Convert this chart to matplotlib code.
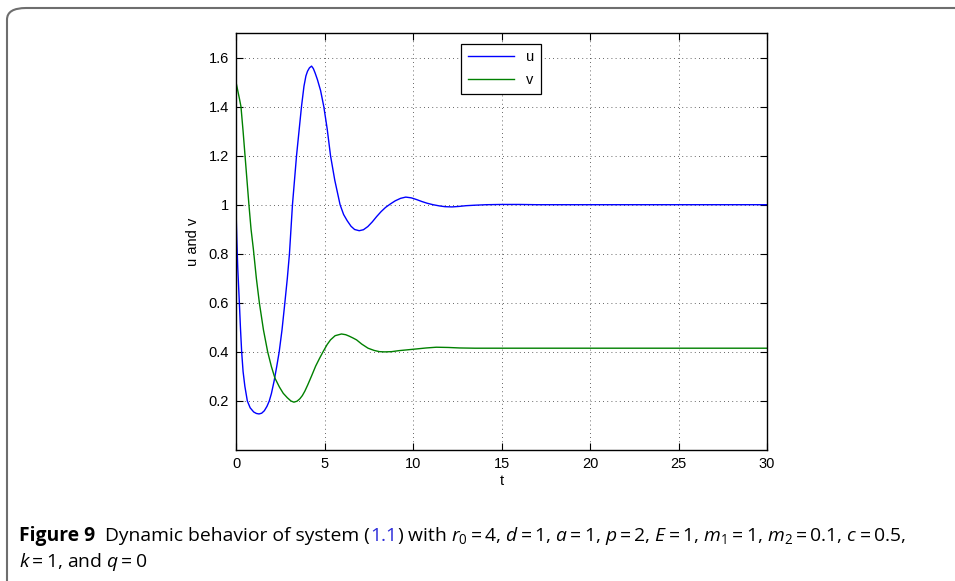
import matplotlib
matplotlib.use("Agg")
import matplotlib.pyplot as plt
from matplotlib.patches import FancyBboxPatch
from matplotlib.ticker import FuncFormatter

# values
u_t = [0, 0.02, 0.05, 0.1, 0.19, 0.25, 0.32, 0.4, 0.5, 0.64, 0.8, 1.0, 1.15,
       1.3, 1.45, 1.6, 1.75, 1.88, 2.0, 2.15, 2.3, 2.44, 2.6, 2.76, 2.9, 3.02,
       3.19, 3.42, 3.56, 3.70, 3.84, 3.95, 4.04, 4.15, 4.27, 4.37, 4.47, 4.6,
       4.78, 4.96, 5.15, 5.34, 5.58, 5.88, 6.08, 6.28, 6.5, 6.7, 6.96, 7.2,
       7.45, 7.7, 7.95, 8.2, 8.45, 8.72, 9.0, 9.3, 9.59, 9.9, 10.2, 10.5, 10.8,
       11.13, 11.5, 11.8, 12.2, 12.6, 13.0, 13.5, 14.14, 15, 16, 17, 20, 25, 30]
u = [1.0, 0.93, 0.85, 0.74, 0.6, 0.5, 0.4, 0.32, 0.26, 0.2, 0.172, 0.155,
     0.149, 0.147, 0.15, 0.16, 0.178, 0.2, 0.23, 0.28, 0.34, 0.4, 0.49, 0.6,
     0.7, 0.8, 1.0, 1.2, 1.3, 1.4, 1.483, 1.525, 1.544, 1.558, 1.565, 1.555,
     1.537, 1.51, 1.465, 1.4, 1.31, 1.2, 1.1, 1.0, 0.96, 0.935, 0.912, 0.899,
     0.894, 0.898, 0.911, 0.93, 0.952, 0.972, 0.989, 1.003, 1.016, 1.026,
     1.031, 1.028, 1.021, 1.013, 1.006, 1.0, 0.995, 0.992, 0.991, 0.993,
     0.996, 0.998, 1.0, 1.001, 1.001, 1.0, 1.0, 1.0, 1.0]

v_t = [0, 0.1, 0.2, 0.28, 0.4, 0.51, 0.62, 0.73, 0.85, 0.98, 1.15, 1.32, 1.55,
       1.79, 2.0, 2.2, 2.45, 2.67, 2.9, 3.1, 3.27, 3.45, 3.61, 3.75, 3.89,
       4.05, 4.27, 4.5, 4.73, 4.93, 5.15, 5.34, 5.6, 5.96, 6.2, 6.4, 6.6, 6.81,
       7.1, 7.46, 7.8, 8.1, 8.4, 8.8, 9.2, 9.63, 10.2, 10.75, 11.32, 12.0,
       12.63, 13.5, 15, 20, 25, 30]
v = [1.5, 1.465, 1.43, 1.4, 1.3, 1.2, 1.1, 1.0, 0.9, 0.82, 0.7, 0.6, 0.49,
     0.4, 0.34, 0.293, 0.257, 0.231, 0.213, 0.2, 0.195, 0.199, 0.209, 0.222,
     0.24, 0.265, 0.302, 0.342, 0.375, 0.402, 0.43, 0.449, 0.466, 0.473, 0.47,
     0.464, 0.457, 0.449, 0.432, 0.415, 0.406, 0.401, 0.400, 0.401, 0.405,
     0.408, 0.412, 0.416, 0.419, 0.418, 0.416, 0.415, 0.415, 0.415, 0.415,
     0.415]

x_ticks = [0, 5, 10, 15, 20, 25, 30]
y_ticks = [0.2, 0.4, 0.6, 0.8, 1.0, 1.2, 1.4, 1.6]

plt.rcParams['font.family'] = ['Liberation Sans', 'DejaVu Sans']
plt.rcParams['mathtext.fontset'] = 'custom'
plt.rcParams['mathtext.rm'] = 'Open Sans'
plt.rcParams['mathtext.it'] = 'Open Sans:italic'
plt.rcParams['mathtext.bf'] = 'Open Sans:bold'

fig = plt.figure(figsize=(9.55, 5.81), dpi=100)

# rounded frame around the whole figure (only top/left visible)
frame = FancyBboxPatch((7 / 955, -0.2), 1.2, 0.2 + (581 - 8) / 581,
                       boxstyle="round,pad=0,rounding_size=0.02",
                       transform=fig.transFigure, fill=False,
                       edgecolor='#6e6e6e', linewidth=1.5, clip_on=False)
fig.patches.append(frame)

ax = fig.add_axes([236 / 955, (581 - 450) / 581, 531 / 955, 417 / 581])
ax.plot(u_t, u, color=(0, 0, 1), linewidth=1.0, label='u')
ax.plot(v_t, v, color=(0, 0.5, 0), linewidth=1.0, label='v')

ax.set_xlim(0, 30)
ax.set_ylim(0, 1.7)
ax.set_xticks(x_ticks)
ax.set_yticks(y_ticks)
ax.yaxis.set_major_formatter(FuncFormatter(lambda val, pos: f"{val:g}"))
ax.tick_params(direction='in', top=True, right=True, length=5, width=0.8,
               labelsize=10.5, pad=5)
for s in ax.spines.values():
    s.set_linewidth(1.0)
ax.grid(True, color='black', linestyle=(0, (1, 4)), linewidth=0.6, alpha=0.8)
ax.set_xlabel('t', fontsize=10.5, labelpad=2)
ax.set_ylabel('u and v', fontsize=10.5, labelpad=6)

leg = ax.legend(loc='upper center', bbox_to_anchor=(0.499, 0.992), fontsize=10.5,
                fancybox=False, edgecolor='black', framealpha=1,
                handlelength=3.2, borderpad=0.45, labelspacing=0.6)
leg.get_frame().set_linewidth(0.9)

# caption, built piece by piece so "1.1" can be blue
fig.canvas.draw()
rend = fig.canvas.get_renderer()
cap_size = 13.9
y1 = 1 - 541 / 581
x = 19 / 955
pieces = [("Figure 9", 'bold', 'black'),
          ("  Dynamic behavior of system (", 'normal', 'black'),
          ("1.1", 'normal', '#2b2bd9'),
          (r") with $r_0=4$, $d=1$, $a=1$, $p=2$, $E=1$, $m_1=1$, $m_2=0.1$, $c=0.5$,",
           'normal', 'black')]
for txt, w, col in pieces:
    t = fig.text(x, y1, txt, fontsize=cap_size, fontweight=w, color=col,
                 family='Open Sans', va='baseline', ha='left')
    bb = t.get_window_extent(renderer=rend)
    x = bb.x1 / fig.bbox.width
fig.text(19 / 955, 1 - 567 / 581, r"$k=1$, and $q=0$", fontsize=cap_size,
         family='Open Sans', va='baseline', ha='left')

fig.savefig('out.png', dpi=100)
